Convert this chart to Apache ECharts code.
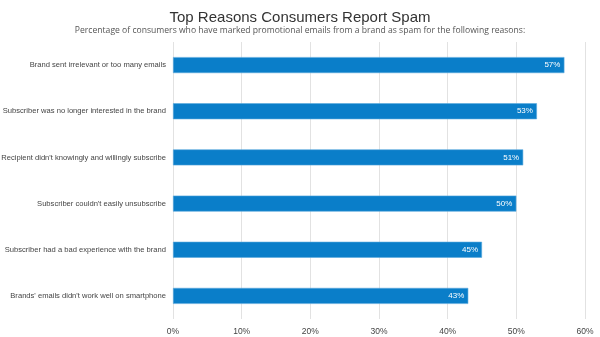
<!DOCTYPE html>
<html>
<head>
<meta charset="utf-8">
<script src="https://cdn.jsdelivr.net/npm/echarts@6/dist/echarts.min.js"></script>
<style>
  html, body { margin: 0; padding: 0; background: #fff; }
  #chart { width: 600px; height: 337px; }
</style>
</head>
<body>
<div id="chart"></div>
<script>
// Reasons, listed top to bottom
const reasons = [
  "Brand sent irrelevant or too many emails",
  "Subscriber was no longer interested in the brand",
  "Recipient didn't knowingly and willingly subscribe",
  "Subscriber couldn't easily unsubscribe",
  "Subscriber had a bad experience with the brand",
  "Brands' emails didn't work well on smartphone"
];
// Share of consumers (%)
const shares = [57, 53, 51, 50, 45, 43];
const axisTicks = [0, 10, 20, 30, 40, 50, 60];

const chart = echarts.init(document.getElementById('chart'), null, { renderer: 'canvas' });
chart.setOption({
  animation: false,
  backgroundColor: '#ffffff',
  title: {
    text: 'Top Reasons Consumers Report Spam',
    subtext: 'Percentage of consumers who have marked promotional emails from a brand as spam for the following reasons:',
    left: 'center',
    top: 5,
    itemGap: 1,
    textStyle: { fontFamily: 'Liberation Sans, Arial', fontSize: 15, fontWeight: 'normal', color: '#333' },
    subtextStyle: { fontFamily: 'Open Sans, Noto Sans', fontSize: 8.6, color: '#555' }
  },
  grid: { left: 173, right: 15, top: 42, bottom: 18, containLabel: false, outerBoundsMode: 'none' },
  xAxis: {
    type: 'value',
    min: axisTicks[0],
    max: axisTicks[axisTicks.length - 1],
    interval: 10,
    axisLine: { show: false },
    axisTick: { show: false },
    splitLine: { show: true, lineStyle: { color: '#e2e2e2', width: 1 } },
    axisLabel: { formatter: '{value}%', color: '#444', fontSize: 8.5, fontFamily: 'Liberation Sans, Arial', margin: 8 }
  },
  yAxis: {
    type: 'category',
    inverse: true,
    data: reasons,
    axisLine: { show: false },
    axisTick: { show: false },
    axisLabel: { color: '#444', fontSize: 7.6, fontFamily: 'Liberation Sans, Arial', margin: 7 }
  },
  series: [{
    type: 'bar',
    data: shares,
    barWidth: 16,
    itemStyle: { color: '#0a7ec9', borderColor: '#5aa9dd', borderWidth: 0.6 },
    label: {
      show: true,
      position: 'insideRight',
      formatter: '{c}%',
      color: '#fff',
      fontSize: 8,
      fontFamily: 'Liberation Sans, Arial',
      distance: 4
    }
  }]
});
</script>
</body>
</html>
